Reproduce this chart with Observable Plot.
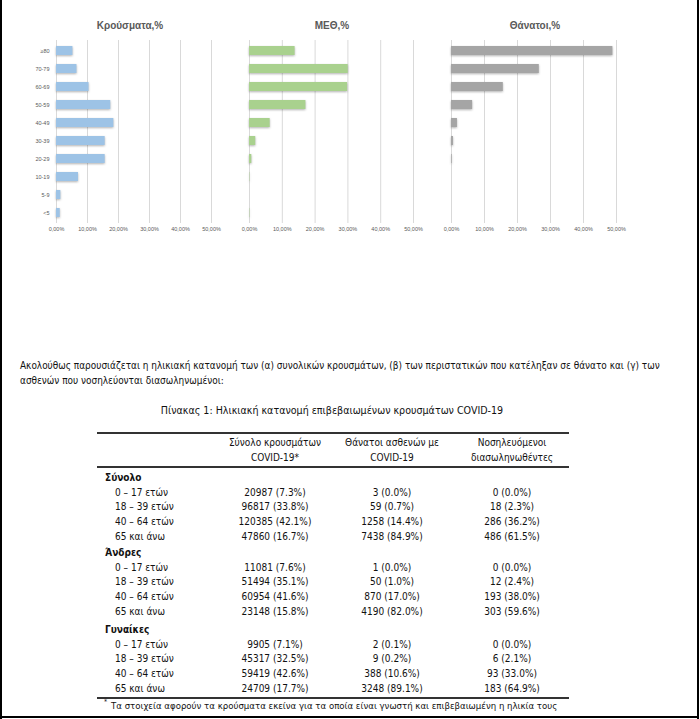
<!DOCTYPE html>
<html><head><meta charset="utf-8">
<script src="https://cdn.jsdelivr.net/npm/d3@7"></script>
<script src="https://cdn.jsdelivr.net/npm/@observablehq/plot@0.6"></script>
<style>
body{margin:0;background:#fff;}
#page{position:relative;width:700px;height:719px;overflow:hidden;font-family:"Liberation Sans Narrow","DejaVu Sans Condensed",sans-serif;color:#111;}
.bd{position:absolute;background:#000;}
.chart{position:absolute;top:0;}
.chart svg{overflow:visible;}
.ctitle{position:absolute;top:20px;font:bold 10px "Liberation Sans",sans-serif;color:#595959;transform:translateX(-50%);white-space:nowrap;}
.chart g[aria-label="bar"] rect{filter:drop-shadow(0.8px 1px 0.8px rgba(0,0,0,0.3));}
.t{position:absolute;white-space:nowrap;transform:translateY(-50%);font-size:10px;line-height:12px;}
.c{transform:translate(-50%,-50%);text-align:center;}
.rule{position:absolute;background:#333;}
</style>
</head><body>
<div id="page"></div>
<script>
// ---- chart data ----
const ageGroups = ["≥80","70-79","60-69","50-59","40-49","30-39","20-29","10-19","5-9","<5"];
const casesPctByAge = [5.3, 6.6, 10.5, 17.5, 18.5, 15.7, 15.7, 7.1, 1.4, 1.2];
const icuPctByAge = [13.9, 30.1, 29.9, 17.2, 6.3, 1.9, 0.7, 0.1, 0, 0.1];
const deathsPctByAge = [48.9, 26.6, 15.7, 6.4, 1.8, 0.6, 0.2, 0, 0, 0];
const xTicks = [0, 10, 20, 30, 40, 50];
const chartTitles = ["Κρούσματα,%", "ΜΕΘ,%", "Θάνατοι,%"];

// ---- table data ----
const paragraph = "Ακολούθως παρουσιάζεται η ηλικιακή κατανομή των (α) συνολικών κρουσμάτων, (β) των περιστατικών που κατέληξαν σε θάνατο και (γ) των";
const paragraph2 = "ασθενών που νοσηλεύονται διασωληνωμένοι:";
const tableCaption = "Πίνακας 1: Ηλικιακή κατανομή επιβεβαιωμένων κρουσμάτων COVID-19";
const colHeaders = [["Σύνολο κρουσμάτων","COVID-19*"],["Θάνατοι ασθενών με","COVID-19"],["Νοσηλευόμενοι","διασωληνωθέντες"]];
const groups = ["Σύνολο","Άνδρες","Γυναίκες"];
const ageRows = ["0 – 17 ετών","18 – 39 ετών","40 – 64 ετών","65 και άνω"];
const casesN = [[20987,96817,120385,47860],[11081,51494,60954,23148],[9905,45317,59419,24709]];
const casesP = [["7.3","33.8","42.1","16.7"],["7.6","35.1","41.6","15.8"],["7.1","32.5","42.6","17.7"]];
const deathsN = [[3,59,1258,7438],[1,50,870,4190],[2,9,388,3248]];
const deathsP = [["0.0","0.7","14.4","84.9"],["0.0","1.0","17.0","82.0"],["0.1","0.2","10.6","89.1"]];
const intubN = [[0,18,286,486],[0,12,193,303],[0,6,93,183]];
const intubP = [["0.0","2.3","36.2","61.5"],["0.0","2.4","38.0","59.6"],["0.0","2.1","33.0","64.9"]];
const footnote = "Τα στοιχεία αφορούν τα κρούσματα εκείνα για τα οποία είναι γνωστή και επιβεβαιωμένη η ηλικία τους";

const page = document.getElementById("page");
function el(cls, css, txt){const d=document.createElement("div");d.className=cls;Object.assign(d.style,css);if(txt!=null)d.textContent=txt;page.appendChild(d);return d;}

// borders
el("bd",{left:"0px",top:"0px",width:"2px",height:"719px"});
el("bd",{left:"697px",top:"0px",width:"2px",height:"719px"});
el("bd",{left:"0px",top:"716px",width:"699px",height:"2px"});

// ---- charts ----
const specs = [
  {vals: casesPctByAge, color:"#9dc3e6", left:0, width:225, ml:56, mr:14, yAxis:true, tx:130},
  {vals: icuPctByAge, color:"#a9d18e", left:230, width:196, ml:19, mr:13, yAxis:false, tx:332},
  {vals: deathsPctByAge, color:"#a5a5a5", left:430, width:200, ml:21, mr:14, yAxis:false, tx:535}
];
specs.forEach((s, i) => {
  const data = ageGroups.map((a, j) => ({age:a, v:s.vals[j]}));
  const p = Plot.plot({
    width: s.width, height: 240,
    marginLeft: s.ml, marginRight: s.mr, marginTop: 40, marginBottom: 17,
    style: {fontSize:"5.5px", fontFamily:"'Liberation Sans',sans-serif", color:"#595959", background:"transparent"},
    x: {domain:[0,50], ticks:xTicks, tickFormat: d => d.toFixed(2).replace(".", ",") + "%", tickSize:0, tickPadding:4, label:null},
    y: {domain: ageGroups, paddingInner:0.5, paddingOuter:0.25, tickSize:0, tickPadding:7, label:null, axis: s.yAxis ? "left" : null},
    marks: [
      Plot.ruleX(xTicks, {stroke:"#d9d9d9", strokeWidth:1}),
      Plot.barX(data, {x:"v", y:"age", fill:s.color})
    ]
  });
  const wrap = el("chart", {left: s.left + "px"});
  wrap.appendChild(p);
  el("ctitle", {left: s.tx + "px"}, chartTitles[i]);
});

// ---- text ----
el("t", {left:"20px", top:"366px", fontSize:"9.95px"}, paragraph);
el("t", {left:"20px", top:"381px", fontSize:"9.95px"}, paragraph2);
el("t c", {left:"332px", top:"410px", fontSize:"10.6px"}, tableCaption);

// table rules
el("rule", {left:"97px", top:"432px", width:"472px", height:"2px"});
el("rule", {left:"97px", top:"466px", width:"472px", height:"1.5px"});
el("rule", {left:"97px", top:"697px", width:"472px", height:"2px"});

const colX = [275, 392, 512];
colHeaders.forEach((h, k) => {
  el("t c", {left: colX[k] + "px", top:"443px"}, h[0]);
  el("t c", {left: colX[k] + "px", top:"458px"}, h[1]);
});
const groupY = [478, 553, 630];
groups.forEach((g, gi) => {
  el("t", {left:"105px", top: groupY[gi] + "px", fontWeight:"bold"}, g);
  ageRows.forEach((r, ri) => {
    const y = groupY[gi] + 14.7 * (ri + 1);
    el("t", {left:"115px", top: y + "px"}, r);
    el("t c", {left: colX[0] + "px", top: y + "px"}, `${casesN[gi][ri]} (${casesP[gi][ri]}%)`);
    el("t c", {left: colX[1] + "px", top: y + "px"}, `${deathsN[gi][ri]} (${deathsP[gi][ri]}%)`);
    el("t c", {left: colX[2] + "px", top: y + "px"}, `${intubN[gi][ri]} (${intubP[gi][ri]}%)`);
  });
});
el("t", {left:"104px", top:"702px", fontSize:"7px"}, "*");
el("t", {left:"111px", top:"706px", fontSize:"9.55px"}, footnote);
</script>
</body></html>
